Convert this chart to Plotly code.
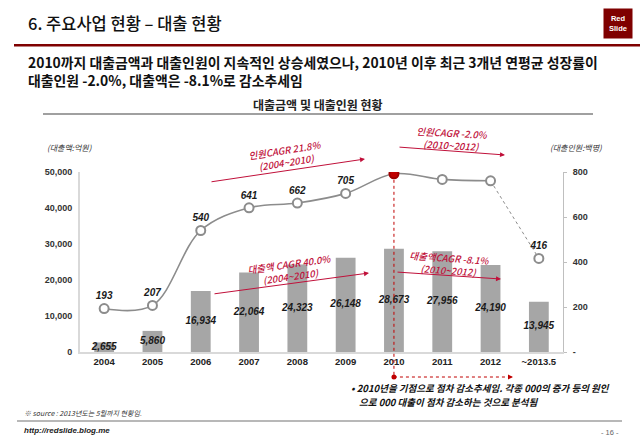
import plotly.graph_objects as go

# ---------------- data ----------------
years = ["2004", "2005", "2006", "2007", "2008", "2009", "2010", "2011", "2012", "~2013.5"]
loan_amount = [2655, 5860, 16934, 22064, 24323, 26148, 28673, 27956, 24190, 13945]   # 억원
borrowers = [193, 207, 540, 641, 662, 705, 792, 767, 761, 416]                      # 백명
left_tickvals = [0, 10000, 20000, 30000, 40000, 50000]
left_ticktext = ["0", "10,000", "20,000", "30,000", "40,000", "50,000"]
right_tickvals = [0, 200, 400, 600, 800]
right_ticktext = ["-", "200", "400", "600", "800"]
peak_year = "2010"

# ---------------- geometry helpers ----------------
W, H = 640, 442
L, R, T, B = 80, 77, 172, 90
PW, PH = W - L - R, H - T - B


def px(x):
    return (x - L) / PW


def py(y):
    return (H - B - y) / PH


KR = "Noto Sans CJK KR"
NUM = "Liberation Sans"
GRAY_LINE = "#8C8C8C"
CRIMSON = "#C0103A"
DARKRED = "#7F0000"

shapes = []
annotations = []


def label(x, y, text, font, xanchor="center", yanchor="middle", **kw):
    annotations.append(dict(xref="paper", yref="paper", x=px(x), y=py(y), text=text,
                            showarrow=False, xanchor=xanchor, yanchor=yanchor,
                            font=font, **kw))


fig = go.Figure()

# bars (loan amount)
fig.add_trace(go.Bar(
    x=years, y=loan_amount, marker=dict(color="#A6A6A6", line=dict(width=0)),
    width=0.41, yaxis="y", hoverinfo="skip", showlegend=False))

# bar value labels (centered in bars)
fig.add_trace(go.Scatter(
    x=years, y=[v / 2 for v in loan_amount], mode="text",
    text=[f"{v:,}" for v in loan_amount],
    textfont=dict(family=NUM, size=10, color="#1a1a1a", style="italic", weight="bold"),
    yaxis="y", showlegend=False, hoverinfo="skip"))

# borrowers line: solid spline through 2012, dotted afterwards
fig.add_trace(go.Scatter(
    x=years[:9], y=borrowers[:9], mode="lines", yaxis="y2",
    line=dict(color=GRAY_LINE, width=1.6, shape="spline", smoothing=1.0),
    showlegend=False, hoverinfo="skip"))
fig.add_trace(go.Scatter(
    x=years[8:], y=borrowers[8:], mode="lines", yaxis="y2",
    line=dict(color=GRAY_LINE, width=1, dash="dot", shape="spline"),
    showlegend=False, hoverinfo="skip"))

marker_fill = ["#C00000" if y == peak_year else "white" for y in years]
marker_line = ["#A00000" if y == peak_year else GRAY_LINE for y in years]
fig.add_trace(go.Scatter(
    x=years, y=borrowers, mode="markers+text", yaxis="y2",
    marker=dict(symbol="circle", size=9, color=marker_fill,
                line=dict(color=marker_line, width=2)),
    text=[str(v) for v in borrowers], textposition="top center",
    textfont=dict(family=NUM, size=10, color="#1a1a1a", style="italic", weight="bold"),
    showlegend=False, hoverinfo="skip"))

# header: title underline, Red Slide box
shapes.append(dict(type="rect", xref="paper", yref="paper",
                   x0=px(14), x1=px(640), y0=py(46.5), y1=py(44),
                   fillcolor=DARKRED, line=dict(width=0), layer="above"))
label(603, 8, "<b>Red<br>Slide</b>", dict(family=NUM, size=7.5, color="white"),
      xanchor="left", yanchor="top", width=28, height=29, bgcolor=DARKRED,
      borderpad=0, align="center", valign="middle")
label(26, 23, "6. 주요사업 현황 – 대출 현황",
      dict(family=KR, size=16.5, color="#111111", weight=500), xanchor="left")

# subtitle
label(26, 71, "<b>2010까지 대출금액과 대출인원이 지속적인 상승세였으나, 2010년 이후 최근 3개년 연평균 성장률이<br>대출인원 -2.0%, 대출액은 -8.1%로 감소추세임</b>",
      dict(family=KR, size=13.9, color="#111111"), xanchor="left", align="left")

# chart title & underline
label(318, 104, "<b>대출금액 및 대출인원 현황</b>", dict(family=KR, size=12, color="#222222"))
shapes.append(dict(type="line", xref="paper", yref="paper",
                   x0=px(43), x1=px(593), y0=py(114), y1=py(114),
                   line=dict(color="#808080", width=1.5)))

# unit labels
label(45, 147, "<i>(대출액:억원)</i>", dict(family=KR, size=8, color="#333333"), xanchor="left")
label(604, 147, "<i>(대출인원:백명)</i>", dict(family=KR, size=8, color="#333333"), xanchor="right")

# CAGR annotations: (text, center, angle, tail, head)
cagr = [
    ("인원CAGR 21.8%<br>(2004~2010)", (286, 156), -9, (210, 182), (365, 159)),
    ("인원CAGR -2.0%<br>(2010~2012)", (452, 139), 3, (398, 147), (505, 155)),
    ("대출액 CAGR 40.0%<br>(2004~2010)", (290, 270), -8, (213, 294), (369, 273)),
    ("대출액CAGR -8.1%<br>(2010~2012)", (449, 264), 4, (396, 272), (501, 279)),
]
for txt, (cx, cy), ang, (tx, ty), (hx, hy) in cagr:
    label(cx, cy, f"<i>{txt}</i>", dict(family=KR, size=9.5, color=CRIMSON, weight=500),
          textangle=ang)
    annotations.append(dict(xref="paper", yref="paper", x=px(hx), y=py(hy),
                            ax=tx - hx, ay=ty - hy, axref="pixel", ayref="pixel",
                            text="", showarrow=True, arrowhead=2, arrowsize=1,
                            arrowwidth=1, arrowcolor=CRIMSON))

# red dotted guide from the 2010 peak
peak_idx = years.index(peak_year)
peak_xp = (peak_idx + 0.5) / len(years)
peak_yp = borrowers[peak_idx] / right_tickvals[-1]
shapes.append(dict(type="line", xref="paper", yref="paper",
                   x0=peak_xp, x1=peak_xp, y0=peak_yp, y1=py(377),
                   line=dict(color="#C00000", width=1, dash="dot")))
shapes.append(dict(type="line", xref="paper", yref="paper",
                   x0=peak_xp, x1=px(510), y0=py(377), y1=py(377),
                   line=dict(color="#C00000", width=1, dash="dot")))
shapes.append(dict(type="circle", xref="paper", yref="paper",
                   x0=peak_xp - 2.5 / PW, x1=peak_xp + 2.5 / PW,
                   y0=py(379.5), y1=py(374.5),
                   fillcolor="#C00000", line=dict(color="#C00000", width=0)))
annotations.append(dict(xref="paper", yref="paper", x=px(513), y=py(377),
                        ax=-6, ay=0, axref="pixel", ayref="pixel", text="",
                        showarrow=True, arrowhead=2, arrowsize=1, arrowwidth=1,
                        arrowcolor="#C00000"))

# bullet comment (two lines)
label(349, 388, "<b><i>• 2010년을 기점으로 점차 감소추세임. 각종 000의 증가 등의 원인</i></b>",
      dict(family=KR, size=9.5, color="#111111"), xanchor="left")
label(357, 402, "<b><i>으로 000 대출이 점차 감소하는 것으로 분석됨</i></b>",
      dict(family=KR, size=9.5, color="#111111"), xanchor="left")

# footer
label(22, 413, "<i>※ source : 2013년도는 5월까지 현황임.</i>",
      dict(family=KR, size=7, color="#333333"), xanchor="left")
shapes.append(dict(type="line", xref="paper", yref="paper",
                   x0=px(17), x1=px(622), y0=py(421), y1=py(421),
                   line=dict(color="#A0A0A0", width=1.5)))
label(22, 430, "<b><i>http://redslide.blog.me</i></b>",
      dict(family=NUM, size=8, color="#222222"), xanchor="left")
label(610, 432, "- 16 -", dict(family=NUM, size=7.5, color="#666666"))

tickfont = dict(family=NUM, size=9, color="#333333", weight="bold")

fig.update_layout(
    width=W, height=H,
    margin=dict(l=L, r=R, t=T, b=B, pad=0),
    paper_bgcolor="white", plot_bgcolor="white",
    showlegend=False, bargap=0.6,
    xaxis=dict(type="category", range=[-0.5, len(years) - 0.5], showgrid=False,
               showline=True, linecolor="#D9D9D9", linewidth=2, ticks="",
               tickfont=dict(family=NUM, size=9.5, color="#222222", weight="bold"),
               zeroline=False, fixedrange=True),
    yaxis=dict(range=[0, left_tickvals[-1]], tickvals=left_tickvals, ticktext=left_ticktext,
               showgrid=False, zeroline=False, showline=True, linecolor="#D9D9D9",
               linewidth=2, ticks="", tickfont=tickfont, ticklabelstandoff=4),
    yaxis2=dict(range=[0, right_tickvals[-1]], tickvals=right_tickvals,
                ticktext=right_ticktext, overlaying="y", side="right",
                showgrid=False, zeroline=False, showline=True, linecolor="#BFBFBF",
                linewidth=1, ticks="outside", ticklen=3, tickcolor="#BFBFBF",
                tickfont=tickfont, ticklabelstandoff=4),
    shapes=shapes, annotations=annotations,
)

fig.write_html("out.html", config={"displayModeBar": False},
               post_script="document.body.style.margin='0';document.body.style.overflow='hidden';")
